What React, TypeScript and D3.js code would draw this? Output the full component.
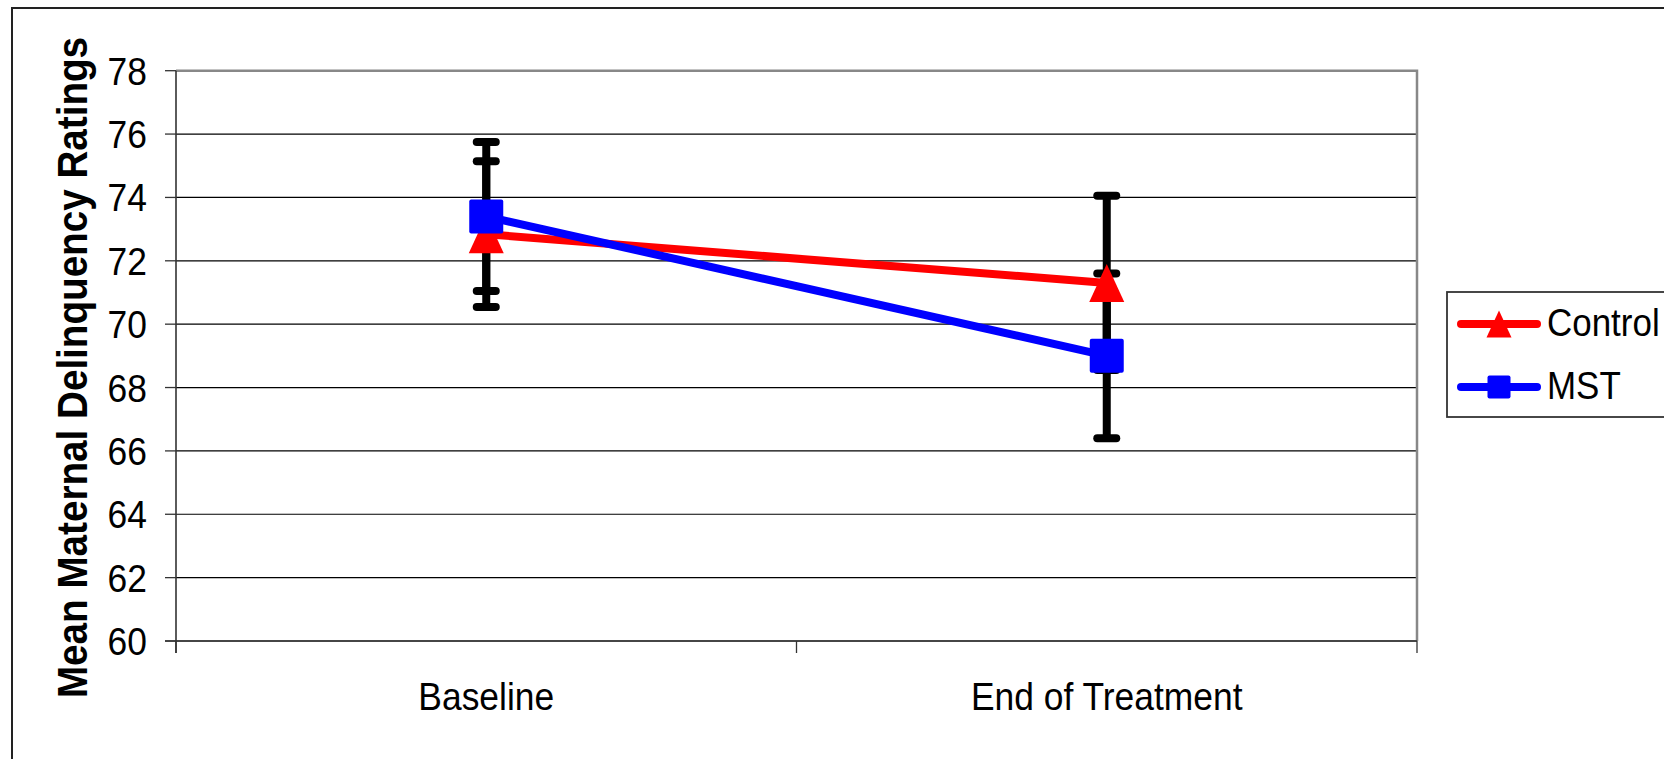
import React from 'react'
import * as d3 from 'd3'

const categories = ['Baseline', 'End of Treatment']
const seriesNames = ['Control', 'MST']
const controlMeans = [72.84, 71.3]
const controlErrors = [2.3, 2.75]
const mstMeans = [73.4, 69.0]
const mstErrors = [2.35, 2.6]
const yTicks = [60, 62, 64, 66, 68, 70, 72, 74, 76, 78]

const W = 1664
const H = 759
const FONT = '"Liberation Sans", Arial, sans-serif'
const SQUEEZE = 0.92 // text in the source looks a little condensed

const plot = {left: 176, right: 1417, top: 70.7, bottom: 641}

function App() {
  const x = d3
    .scaleBand()
    .domain(categories)
    .range([plot.left, plot.right])
    .padding(0)
  const y = d3.scaleLinear().domain([60, 78]).range([plot.bottom, plot.top])
  const cx = (c: string) => (x(c) as number) + x.bandwidth() / 2

  const series = [
    {name: seriesNames[0], means: controlMeans, errs: controlErrors, color: '#ff0000', marker: 'triangle'},
    {name: seriesNames[1], means: mstMeans, errs: mstErrors, color: '#0000ff', marker: 'square'},
  ]

  const line = d3
    .line<number>()
    .x((_, i) => cx(categories[i]))
    .y(d => y(d))

  const triangle = (px: number, py: number, w: number, h: number) =>
    `M${px},${py - h / 2}L${px + w / 2},${py + h / 2}L${px - w / 2},${py + h / 2}Z`

  const marker = (kind: string, px: number, py: number, big: boolean, color: string) => {
    if (kind === 'triangle') {
      return big ? (
        <path d={triangle(px, py, 35, 38)} fill={color} />
      ) : (
        <path d={triangle(px, py, 25, 27)} fill={color} />
      )
    }
    const s = big ? 34 : 23
    return <rect x={px - s / 2} y={py - s / 2} width={s} height={s} rx={2} fill={color} />
  }

  const xTickPos = [plot.left, (plot.left + plot.right) / 2, plot.right]

  return (
    <svg
      width={W}
      height={H}
      style={{position: 'absolute', left: 0, top: 0, background: '#fff'}}
      fontFamily={FONT}>
      {/* outer frame, cut off on right and bottom */}
      <rect x={12} y={8} width={1720} height={800} fill="#fff" stroke="#222" strokeWidth={2} />

      {/* gridlines */}
      {yTicks.map(t => (
        <line key={'g' + t} x1={plot.left} x2={plot.right} y1={y(t)} y2={y(t)} stroke="#000" strokeWidth={1.2} />
      ))}

      {/* plot border top/right */}
      <path
        d={`M${plot.left},${plot.top}H${plot.right}V${plot.bottom}`}
        fill="none"
        stroke="#888"
        strokeWidth={2.5}
      />

      {/* axes */}
      <line x1={plot.left} x2={plot.left} y1={plot.top} y2={plot.bottom + 12} stroke="#333" strokeWidth={1.6} />
      <line x1={plot.left - 11} x2={plot.right} y1={plot.bottom} y2={plot.bottom} stroke="#333" strokeWidth={1.6} />
      {yTicks.map(t => (
        <line key={'t' + t} x1={plot.left - 11} x2={plot.left} y1={y(t)} y2={y(t)} stroke="#333" strokeWidth={1.3} />
      ))}
      {xTickPos.map((p, i) => (
        <line key={'xt' + i} x1={p} x2={p} y1={plot.bottom} y2={plot.bottom + 12} stroke="#333" strokeWidth={1.3} />
      ))}

      {/* y tick labels */}
      {yTicks.map(t => (
        <text
          key={'l' + t}
          transform={`translate(147,${y(t) + 14}) scale(${SQUEEZE},1)`}
          textAnchor="end"
          fontSize={38.5}
          fill="#000">
          {t}
        </text>
      ))}

      {/* x labels */}
      {categories.map(c => (
        <text
          key={c}
          transform={`translate(${cx(c)},710) scale(${SQUEEZE},1)`}
          textAnchor="middle"
          fontSize={38.5}
          fill="#000">
          {c}
        </text>
      ))}

      {/* y title */}
      <text
        transform={`translate(87,367.5) rotate(-90) scale(${SQUEEZE},1)`}
        textAnchor="middle"
        fontSize={42}
        fontWeight="bold"
        fill="#000">
        Mean Maternal Delinquency Ratings
      </text>

      {/* error bars */}
      {series.map(s =>
        s.means.map((m, i) => {
          const px = cx(categories[i])
          const hi = y(m + s.errs[i])
          const lo = y(m - s.errs[i])
          return (
            <g key={s.name + i} stroke="#000" strokeWidth={8} strokeLinecap="round">
              <line x1={px} x2={px} y1={hi} y2={lo} strokeLinecap="butt" />
              <line x1={px - 9.5} x2={px + 9.5} y1={hi} y2={hi} />
              <line x1={px - 9.5} x2={px + 9.5} y1={lo} y2={lo} />
            </g>
          )
        }),
      )}

      {/* series lines */}
      {series.map(s => (
        <path key={'ln' + s.name} d={line(s.means) as string} fill="none" stroke={s.color} strokeWidth={8} />
      ))}

      {/* markers */}
      {series.map(s =>
        s.means.map((m, i) => (
          <g key={'mk' + s.name + i}>{marker(s.marker, cx(categories[i]), y(m), true, s.color)}</g>
        )),
      )}

      {/* legend */}
      <rect x={1447} y={292} width={260} height={125} fill="#fff" stroke="#333" strokeWidth={1.8} />
      {series.map((s, i) => {
        const ly = 324 + i * 63
        return (
          <g key={'lg' + s.name}>
            <line x1={1461} x2={1537} y1={ly} y2={ly} stroke={s.color} strokeWidth={8} strokeLinecap="round" />
            {marker(s.marker, 1499, ly, false, s.color)}
            <text
              transform={`translate(1547,${ly + 12}) scale(${SQUEEZE},1)`}
              fontSize={38}
              fill="#000">
              {s.name}
            </text>
          </g>
        )
      })}
    </svg>
  )
}

export default App
